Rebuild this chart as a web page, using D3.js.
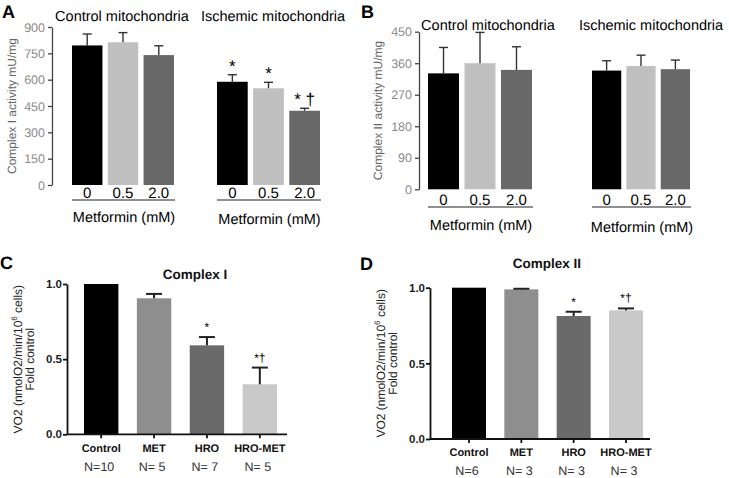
<!DOCTYPE html>
<html><head><meta charset="utf-8">
<script src="https://cdn.jsdelivr.net/npm/d3@7"></script>
<style>
body{margin:0;background:#fff;}
svg{display:block;font-family:"Liberation Sans",Arial,sans-serif;text-rendering:geometricPrecision;}
</style></head>
<body><svg id="chart" width="729" height="478"></svg>
<script>
// ---------- DATA ----------
const doseLabels = ["0", "0.5", "2.0"];
const aControl = [795, 813, 740];
const aControlSem = [65, 55, 53];
const aIschemic = [588, 551, 423];
const aIschemicSem = [40, 34, 14];
const aIschemicSig = ["*", "*", "* \u2020"];
const aTicks = [0, 150, 300, 450, 600, 750, 900];

const bControl = [331, 360, 341];
const bControlSem = [74, 88, 66];
const bIschemic = [339, 352, 343];
const bIschemicSem = [28, 31, 26];
const bTicks = [0, 90, 180, 270, 360, 450];

const groups = ["Control", "MET", "HRO", "HRO-MET"];
const cValues = [1.0, 0.905, 0.592, 0.333];
const cSem = [0, 0.029, 0.055, 0.111];
const cN = ["N=10", "N= 5", "N= 7", "N= 5"];
const cSig = ["", "", "*", "*\u2020"];
const dValues = [1.0, 0.989, 0.813, 0.850];
const dSem = [0, 0.004, 0.028, 0.013];
const dN = ["N=6", "N= 3", "N= 3", "N= 3"];
const dSig = ["", "", "*", "*\u2020"];
const cdTicks = [0.0, 0.5, 1.0];

const doseColors = ["#000000", "#c0c0c0", "#686868"];
const groupColors = ["#000000", "#8e8e8e", "#6a6a6a", "#c9c9c9"];

const svg = d3.select("#chart");

// ---------- helpers ----------
function panelLetter(x, y, t) {
  svg.append("text").attr("x", x).attr("y", y).attr("font-size", 18).attr("font-weight", "bold").text(t);
}

function leftAxisAB(y, x, ticks, label, labelX) {
  const g = svg.append("g").attr("transform", `translate(${x},0)`)
    .call(d3.axisLeft(y).tickValues(ticks).tickSize(4).tickSizeOuter(0).tickPadding(3));
  g.select(".domain").attr("stroke", "#444").attr("stroke-width", 1.3);
  g.selectAll(".tick line").attr("stroke", "#444").attr("stroke-width", 1.3);
  g.selectAll(".tick text").attr("fill", "#8a8a8a").attr("font-size", 12.5)
    .attr("font-family", "Liberation Sans, Arial, sans-serif");
  const [y0, y1] = y.range();
  svg.append("text").attr("transform", `translate(${labelX},${(y0 + y1) / 2}) rotate(-90)`)
    .attr("text-anchor", "middle").attr("font-size", 12).attr("fill", "#666").text(label);
}

function doseGroup(y, range, vals, sems, sig, title, titleY, tickY, lineY, metY) {
  const x = d3.scaleBand().domain(doseLabels).range(range).paddingInner(0.15).paddingOuter(0);
  const g = svg.append("g");
  g.selectAll("rect").data(vals).join("rect")
    .attr("x", (d, i) => x(doseLabels[i])).attr("width", x.bandwidth())
    .attr("y", d => y(d)).attr("height", d => y(0) - y(d))
    .attr("fill", (d, i) => doseColors[i]);
  vals.forEach((v, i) => {
    const cx = x(doseLabels[i]) + x.bandwidth() / 2;
    const top = y(v + sems[i]);
    g.append("line").attr("x1", cx).attr("x2", cx).attr("y1", y(v)).attr("y2", top)
      .attr("stroke", "#333").attr("stroke-width", 1.4);
    g.append("line").attr("x1", cx - 4.5).attr("x2", cx + 4.5).attr("y1", top).attr("y2", top)
      .attr("stroke", "#333").attr("stroke-width", 1.4);
    if (sig) {
      g.append("text").attr("x", cx).attr("y", top - 3).attr("text-anchor", "middle")
        .attr("font-size", 17).attr("fill", "#000").text(sig[i]);
    }
    g.append("text").attr("x", cx).attr("y", tickY).attr("text-anchor", "middle")
      .attr("font-size", 15).attr("fill", "#000").text(doseLabels[i]);
  });
  const [r0, r1] = range;
  g.append("line").attr("x1", r0).attr("x2", r1 + 1).attr("y1", lineY).attr("y2", lineY)
    .attr("stroke", "#222").attr("stroke-width", 1.2);
  g.append("text").attr("x", (r0 + r1) / 2 + 1).attr("y", metY).attr("text-anchor", "middle")
    .attr("font-size", 14.5).attr("fill", "#000").text("Metformin (mM)");
  g.append("text").attr("x", title[1]).attr("y", titleY).attr("text-anchor", "middle")
    .attr("font-size", 14.5).attr("fill", "#000").text(title[0]);
}

function cdPanel(opts) {
  const { axisX, axisEnd, yTop, yBottom, range, vals, sems, nLabels, sig, title, titleX, titleY, catY, nY } = opts;
  const y = d3.scaleLinear().domain([0, 1]).range([yBottom, yTop]);
  const x = d3.scaleBand().domain(groups).range(range).paddingInner(0.35).paddingOuter(0);
  const g = svg.append("g");
  g.selectAll("rect").data(vals).join("rect")
    .attr("x", (d, i) => x(groups[i])).attr("width", x.bandwidth())
    .attr("y", d => y(d)).attr("height", d => y(0) - y(d))
    .attr("fill", (d, i) => groupColors[i]);
  vals.forEach((v, i) => {
    const cx = x(groups[i]) + x.bandwidth() / 2;
    if (sems[i] > 0) {
      const top = y(v + sems[i]);
      g.append("line").attr("x1", cx).attr("x2", cx).attr("y1", y(v)).attr("y2", top)
        .attr("stroke", "#222").attr("stroke-width", 2);
      g.append("line").attr("x1", cx - 8).attr("x2", cx + 8).attr("y1", top).attr("y2", top)
        .attr("stroke", "#222").attr("stroke-width", 2);
    }
    if (sig[i]) {
      g.append("text").attr("x", cx).attr("y", y(v + sems[i]) - 6).attr("text-anchor", "middle")
        .attr("font-size", 12).attr("fill", "#000").text(sig[i]);
    }
    g.append("line").attr("x1", cx).attr("x2", cx).attr("y1", yBottom).attr("y2", yBottom + 4)
      .attr("stroke", "#111").attr("stroke-width", 1.8);
    g.append("text").attr("x", cx).attr("y", catY).attr("text-anchor", "middle")
      .attr("font-size", 11).attr("font-weight", "bold").attr("fill", "#111").text(groups[i]);
    g.append("text").attr("x", cx - 2).attr("y", nY).attr("text-anchor", "middle")
      .attr("font-size", 12.5).attr("fill", "#333").text(nLabels[i]);
  });
  const ax = svg.append("g").attr("transform", `translate(${axisX},0)`)
    .call(d3.axisLeft(y).tickValues(cdTicks).tickFormat(d3.format(".1f")).tickSize(4).tickSizeOuter(0).tickPadding(1));
  ax.select(".domain").attr("stroke", "#111").attr("stroke-width", 1.8);
  ax.selectAll(".tick line").attr("stroke", "#111").attr("stroke-width", 1.8);
  ax.selectAll(".tick text").attr("fill", "#222").attr("font-size", 11.5).attr("font-weight", "bold")
    .attr("font-family", "Liberation Sans, Arial, sans-serif");
  svg.append("line").attr("x1", axisX).attr("x2", axisEnd).attr("y1", yBottom).attr("y2", yBottom)
    .attr("stroke", "#111").attr("stroke-width", 1.8);
  svg.append("text").attr("x", titleX).attr("y", titleY).attr("text-anchor", "middle")
    .attr("font-size", 13.5).attr("font-weight", "bold").attr("fill", "#111").text(title);
  const midY = (yTop + yBottom) / 2;
  const lab = svg.append("text").attr("transform", `translate(${axisX - 45},${midY}) rotate(-90)`)
    .attr("text-anchor", "middle").attr("font-size", 12).attr("fill", "#222");
  lab.append("tspan").text("VO2 (nmolO2/min/10");
  lab.append("tspan").attr("dy", -5).attr("font-size", 8).text("6");
  lab.append("tspan").attr("dy", 5).text(" cells)");
  svg.append("text").attr("transform", `translate(${axisX - 33},${midY}) rotate(-90)`)
    .attr("text-anchor", "middle").attr("font-size", 12).attr("fill", "#222").text("Fold control");
}

// ---------- Panel A ----------
panelLetter(2, 18, "A");
const yA = d3.scaleLinear().domain([0, 900]).range([185, 27]);
leftAxisAB(yA, 52, aTicks, "Complex I activity mU/mg", 16);
doseGroup(yA, [72, 174], aControl, aControlSem, null, ["Control mitochondria", 122], 21, 198, 200, 222);
doseGroup(yA, [217, 320], aIschemic, aIschemicSem, aIschemicSig, ["Ischemic mitochondria", 273], 21, 198, 200, 224);

// ---------- Panel B ----------
panelLetter(361, 18, "B");
const yB = d3.scaleLinear().domain([0, 450]).range([189.3, 31.7]);
leftAxisAB(yB, 419, bTicks, "Complex II  activity mU/mg", 382);
doseGroup(yB, [428, 532], bControl, bControlSem, null, ["Control mitochondria", 488], 30, 205, 207, 230);
doseGroup(yB, [592, 690], bIschemic, bIschemicSem, null, ["Ischemic mitochondria", 651], 30, 205, 207, 232);

// ---------- Panel C ----------
panelLetter(0, 269, "C");
cdPanel({ axisX: 67, axisEnd: 287, yTop: 284, yBottom: 434.3, range: [84, 277],
  vals: cValues, sems: cSem, nLabels: cN, sig: cSig, title: "Complex I", titleX: 195, titleY: 279,
  catY: 452, nY: 471 });

// ---------- Panel D ----------
panelLetter(360, 270, "D");
cdPanel({ axisX: 430, axisEnd: 650, yTop: 287.7, yBottom: 439, range: [452, 643],
  vals: dValues, sems: dSem, nLabels: dN, sig: dSig, title: "Complex II", titleX: 547, titleY: 268,
  catY: 456, nY: 475 });
</script></body></html>
